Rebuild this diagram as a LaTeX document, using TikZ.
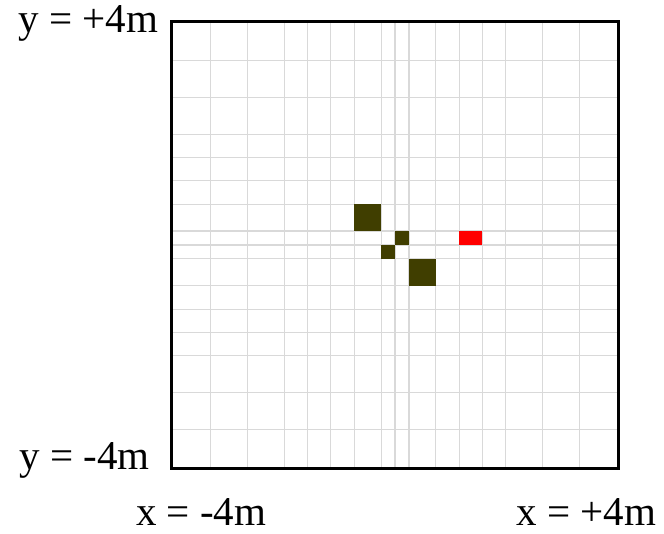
\documentclass[tikz,border=0pt]{standalone}
\usepackage{fontspec}
\setmainfont{Liberation Serif}
\usepackage{xcolor}
\usepackage{tikz}
\definecolor{wallcolor}{RGB}{64,62,0}
\definecolor{gridcolor}{RGB}{217,217,217}
\tikzset{
  gridline/.style={gridcolor,line width=1.1pt},
  wall/.style={fill=wallcolor},
  goal/.style={fill=red},
  axislabel/.style={inner sep=0pt,font=\fontsize{41}{47}\selectfont}
}

\begin{document}
\begin{tikzpicture}[x=55.83pt,y=55.83pt]
    \useasboundingbox (-7.075,-5.176) rectangle (4.818,4.388);

    % grid lines
    \foreach \g in {-3.3,-2.64,-1.98,-1.56,-1.15,-0.73,-0.25,0,0.25,0.73,1.15,1.56,1.98,2.64,3.3} {
        \draw[gridline] (\g,-4) -- (\g,4);
        \draw[gridline] (-4,\g) -- (4,\g);
    }

    % occupied cells
    \fill[wall] (-0.73,0.25) rectangle (-0.25,0.73);
    \fill[wall] (0,0) rectangle (0.25,0.25);
    \fill[wall] (-0.25,-0.25) rectangle (0,0);
    \fill[wall] (0.25,-0.73) rectangle (0.73,-0.25);
    \fill[goal] (1.15,0) rectangle (1.56,0.25);

    \draw[line width=3pt] (-4,-4) rectangle (4,4);

    \node[axislabel,anchor=base east] (ymax) at (-4.24,3.80) {y = +4m};
    \node[axislabel,anchor=base east] (ymin) at (-4.39,-4.03) {y = -4m};
    \node[axislabel,anchor=base,text depth=0pt] (xmin) at (-3.47,-5.03) {x = -4m};
    \node[axislabel,anchor=base,text depth=0pt] (xmax) at (3.43,-5.03) {x = +4m};
\end{tikzpicture}
\end{document}
